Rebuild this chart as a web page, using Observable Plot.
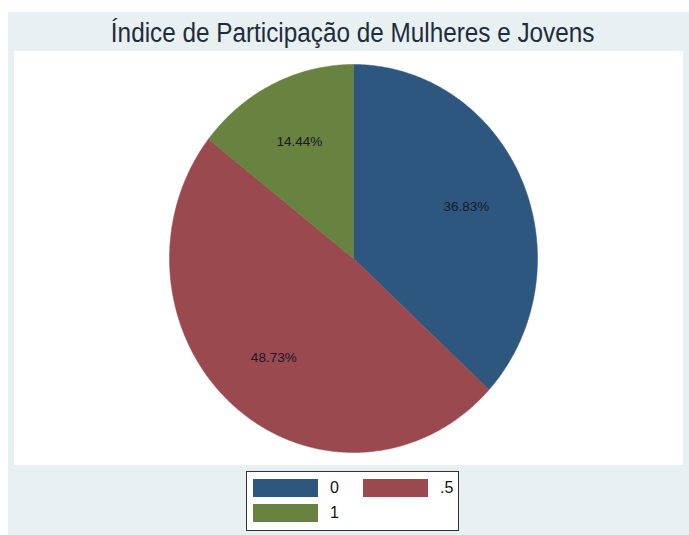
<!DOCTYPE html>
<html>
<head>
<meta charset="utf-8">
<script src="https://cdn.jsdelivr.net/npm/d3@7"></script>
<script src="https://cdn.jsdelivr.net/npm/@observablehq/plot@0.6"></script>
<style>
  html, body { margin: 0; padding: 0; background: #ffffff; }
  #page { position: relative; width: 689px; height: 535px; overflow: hidden; font-family: "Liberation Sans", Arial, sans-serif; }
  #outer { position: absolute; left: 8px; top: 12px; width: 681px; height: 523px; background: #e9f0f1; }
  #title { position: absolute; left: 8px; top: 18px; width: 689px; text-align: center; font-size: 27px; color: #1f2d3a; line-height: 30px; }
  #title span { display: inline-block; transform: scaleX(0.9); transform-origin: center; white-space: nowrap; }
  #plot { position: absolute; left: 14px; top: 51px; width: 669px; height: 414px; background: #ffffff; }
  #legend { position: absolute; left: 246px; top: 471px; width: 213px; height: 60px; background: #ffffff; border: 1px solid #333; box-sizing: border-box; }
  .sw { position: absolute; width: 65px; height: 18px; }
  .lb { position: absolute; font-size: 16px; color: #111; line-height: 18px; }
</style>
</head>
<body>
<div id="page">
  <div id="outer"></div>
  <div id="title"><span>Índice de Participação de Mulheres e Jovens</span></div>
  <div id="plot"></div>
  <div id="legend"></div>
</div>
<script>
const categories = ["0", ".5", "1"];
const values = [36.83, 48.73, 14.44];
const labels = ["36.83%", "48.73%", "14.44%"];
const colors = ["#2e5780", "#9a4a4f", "#67833f"];

const arcs = d3.pie().sort(null).value(d => d.value)(
  categories.map((c, i) => ({cat: c, value: values[i], label: labels[i]}))
);

const polyPts = [];
const labelPts = [];
arcs.forEach(a => {
  const cat = a.data.cat;
  polyPts.push({cat, x: 0, y: 0});
  const n = Math.max(2, Math.ceil((a.endAngle - a.startAngle) / (Math.PI / 360)));
  for (let k = 0; k <= n; k++) {
    const t = a.startAngle + (a.endAngle - a.startAngle) * k / n;
    polyPts.push({cat, x: Math.sin(t), y: Math.cos(t)});
  }
  polyPts.push({cat, x: 0, y: 0});
  const m = (a.startAngle + a.endAngle) / 2;
  labelPts.push({cat, label: a.data.label, x: 0.67 * Math.sin(m), y: 0.67 * Math.cos(m)});
});

const cx = 339, cy = 207, rx = 184, ry = 194;
const chart = Plot.plot({
  width: 669,
  height: 414,
  margin: 0,
  style: {background: "transparent"},
  x: {domain: [-1, 1], range: [cx - rx, cx + rx], axis: null},
  y: {domain: [-1, 1], range: [cy + ry, cy - ry], axis: null},
  color: {domain: categories, range: colors},
  marks: [
    Plot.line(polyPts, {x: "x", y: "y", z: "cat", fill: "cat", stroke: "cat", strokeWidth: 0.5, curve: "linear"}),
    Plot.text(labelPts, {x: "x", y: "y", text: "label", fill: "#15182a", fontSize: 13.5, fontFamily: "Liberation Sans, Arial, sans-serif"})
  ]
});
document.getElementById("plot").appendChild(chart);

// legend
const legend = document.getElementById("legend");
const pos = [[6, 7], [116, 7], [6, 32]];
categories.forEach((c, i) => {
  const [lx, ly] = pos[i];
  const sw = document.createElement("div");
  sw.className = "sw";
  sw.style.left = lx + "px"; sw.style.top = ly + "px"; sw.style.background = colors[i];
  legend.appendChild(sw);
  const lb = document.createElement("div");
  lb.className = "lb";
  lb.style.left = (lx + 77) + "px"; lb.style.top = ly + "px";
  lb.textContent = c;
  legend.appendChild(lb);
});
</script>
</body>
</html>
